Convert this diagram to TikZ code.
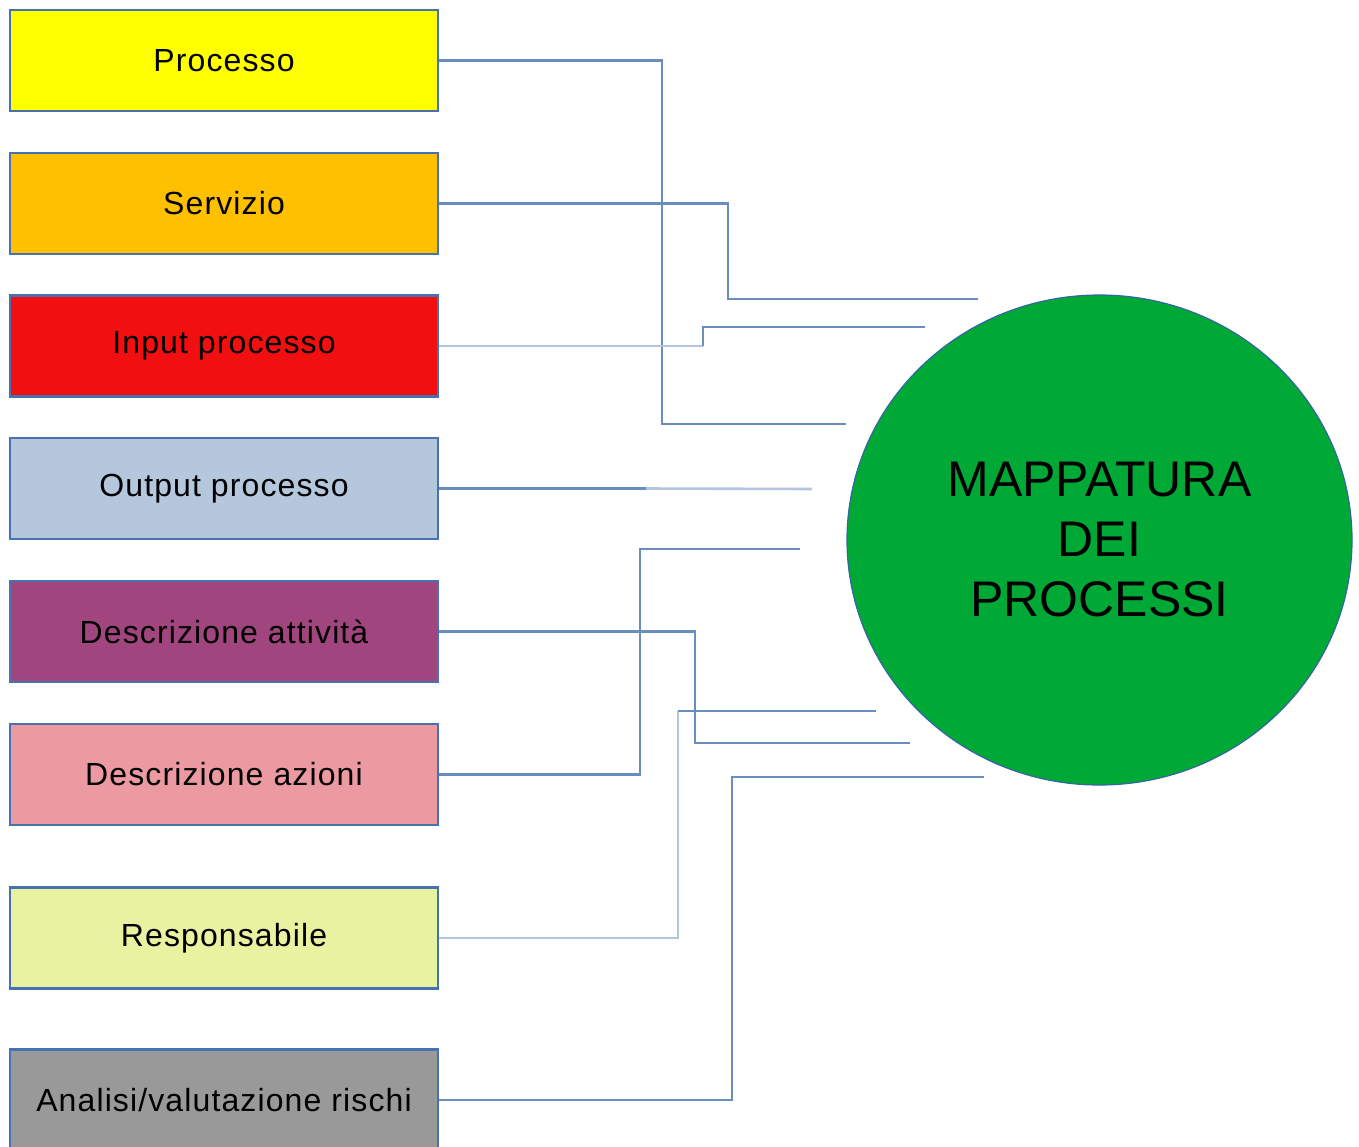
\documentclass[tikz,border=0pt]{standalone}
\usepackage{fontspec}
\setmainfont{Liberation Sans}
\newfontfamily\boxfont[LetterSpace=3.5]{Liberation Sans}
\usetikzlibrary{shapes.geometric}
\definecolor{boxline}{HTML}{4672B0}
\definecolor{linkblue}{HTML}{6A8DBF}
\definecolor{linkpale}{HTML}{B3C6DE}
\definecolor{circline}{HTML}{3465A4}
\definecolor{mapgreen}{HTML}{00A835}
\definecolor{cProc}{HTML}{FFFF00}
\definecolor{cServ}{HTML}{FFC000}
\definecolor{cInp}{HTML}{F20F0F}
\definecolor{cOut}{HTML}{B4C7DD}
\definecolor{cAtt}{HTML}{A0457E}
\definecolor{cAz}{HTML}{EC9AA2}
\definecolor{cResp}{HTML}{E8F2A1}
\definecolor{cAna}{HTML}{999999}
\tikzset{
    box/.style = {draw = boxline, line width = 1.2pt, minimum width = 214pt, minimum height = 50.5pt,
        inner sep = 0pt, font = \boxfont\fontsize{16}{19}\selectfont},
    link/.style = {draw = linkblue, line width = 1.1pt},
    link pale/.style = {draw = linkpale, line width = 1.3pt}
}
\begin{document}
\begin{tikzpicture}[x = 0.5pt, y = -0.5pt]
        \clip (0, 0) rectangle (1359, 1146);
        \useasboundingbox (0, 0) rectangle (1359, 1146);
        % boxes on the left
        \foreach \y/\name/\col/\lab in {60.5/proc/cProc/Processo, 203.5/serv/cServ/Servizio,
            346/inp/cInp/Input processo, 488.5/out/cOut/Output processo,
            631.5/att/cAtt/Descrizione attività, 774.5/az/cAz/Descrizione azioni,
            938/resp/cResp/Responsabile, 1100/ana/cAna/{Analisi/valutazione rischi}}{
            \node[box, fill = \col] (\name) at (224, \y) {\lab};
        }
        % the circle
        \node[ellipse, draw = circline, line width = 0.6pt, fill = mapgreen, minimum width = 252.5pt,
            minimum height = 245pt, inner sep = 0pt, align = center,
            font = \fontsize{25}{30}\selectfont] (map) at (1099.5, 540) {MAPPATURA\\DEI\\PROCESSI};
        % free ends of the connectors
        \foreach \name/\ex/\ey in {proc/846/424, serv/978/299, inp/925/327, out/812/489,
            att/910/743, az/800/549, resp/876/711, ana/984/777}{
            \coordinate (e\name) at (\ex, \ey);
        }
        % connectors
        \foreach \name/\kx in {proc/662, serv/728, att/695, az/640, ana/732}{
            \draw[link] (\name.east) -| (\kx, 0 |- e\name) -- (e\name);
        }
        \draw[link pale] (inp.east) -- (703, 0 |- inp.east) coordinate (kinp);
        \draw[link] (kinp) |- (einp);
        \draw[link] (out.east) -- (646, 0 |- out.east) coordinate (kout);
        \draw[link pale] (kout) -- (eout);
        \draw[link pale] (resp.east) -| (678, 0 |- eresp) coordinate (kresp);
        \draw[link] (kresp) -- (eresp);
    \end{tikzpicture}
\end{document}
